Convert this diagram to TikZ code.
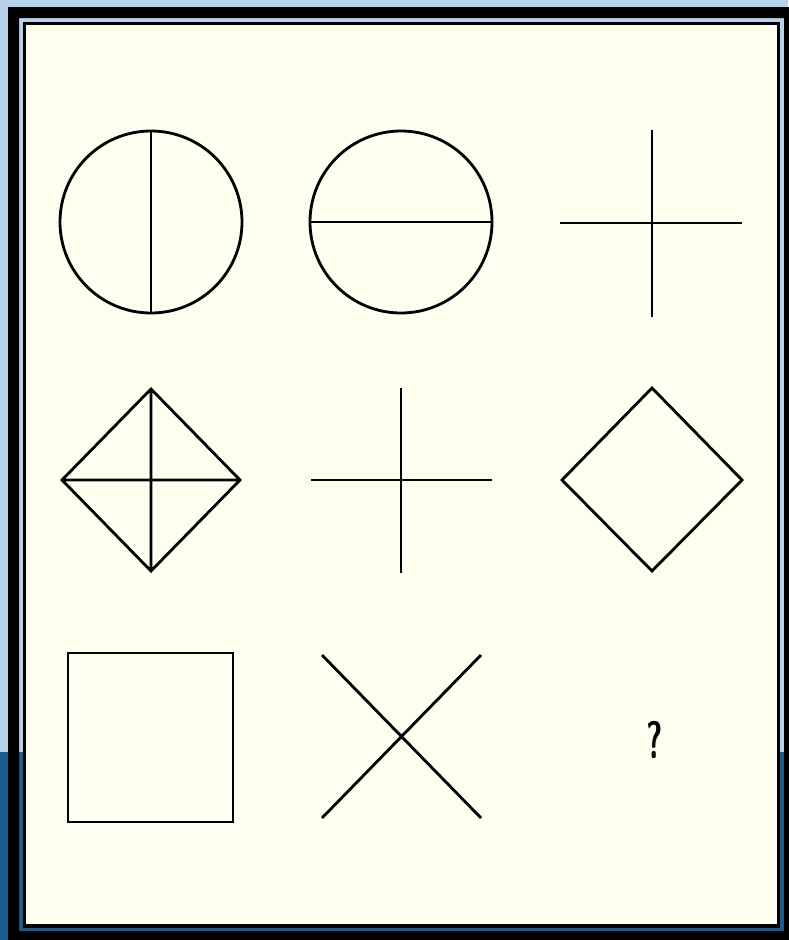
\documentclass[tikz,border=0pt]{standalone}
\usepackage{tikz}
\usetikzlibrary{calc}
\definecolor{Cream}{HTML}{FFFFF0}
\definecolor{SkyBlue}{HTML}{B7D3EA}
\definecolor{DeepBlue}{HTML}{1B5C8E}

\begin{document}
\begin{tikzpicture}[x=.02cm,y=-.02cm,fig/.style={line width=1.6pt,black,line join=miter}]
    \useasboundingbox (0,0) rectangle (788,940);
    % backdrop and frame
    \fill[SkyBlue] (0,0) rectangle (788,940);
    \fill[DeepBlue] (0,752) rectangle (788,940);
    \fill[black,even odd rule] (8,7) rectangle (800,952) (19,18) rectangle (784,931);
    \filldraw[fill=Cream,draw=black,line width=1.8pt] (24.5,23.5) rectangle (778.5,926);
    \foreach \cx/\cy/\nm in {151/222/ca,401/222/cb,652/223/cc,
                             151/480/cd,401/480/ce,652/480/cf,
                             151/737/cg,401/737/ch,655/740/ci}{
      \coordinate (\nm) at (\cx,\cy);
    }
    % row 1
    \draw[fig] (ca) circle[radius=91];
    \draw[fig,shift={(ca)}] (0,-91) -- (0,91);
    \draw[fig] (cb) circle[radius=91];
    \draw[fig,shift={(cb)}] (-91,0) -- (91,0);
    \draw[fig,shift={(cc)}] (-92,0) -- (90,0) (0,-93) -- (0,94);
    % row 2
    \draw[fig,shift={(cd)}] (-89,0) -- (0,-91) -- (89,0) -- (0,91) -- cycle
      (-89,0) -- (89,0) (0,-91) -- (0,91);
    \draw[fig,shift={(ce)}] (-90,0) -- (91,0) (0,-92) -- (0,93);
    \draw[fig,shift={(cf)}] (-90,0) -- (0,-92) -- (90,0) -- (0,91) -- cycle;
    % row 3
    \draw[fig,shift={(cg)}] (-83,-84) rectangle (82,85);
    \draw[fig,shift={(ch)}] (-79,-82) -- (80,81) (80,-82) -- (-79,81);
    \node[font=\sffamily\bfseries\fontsize{30}{30}\selectfont] (qm) at (ci) {\scalebox{.6}[1]{?}};
  \end{tikzpicture}
\end{document}
